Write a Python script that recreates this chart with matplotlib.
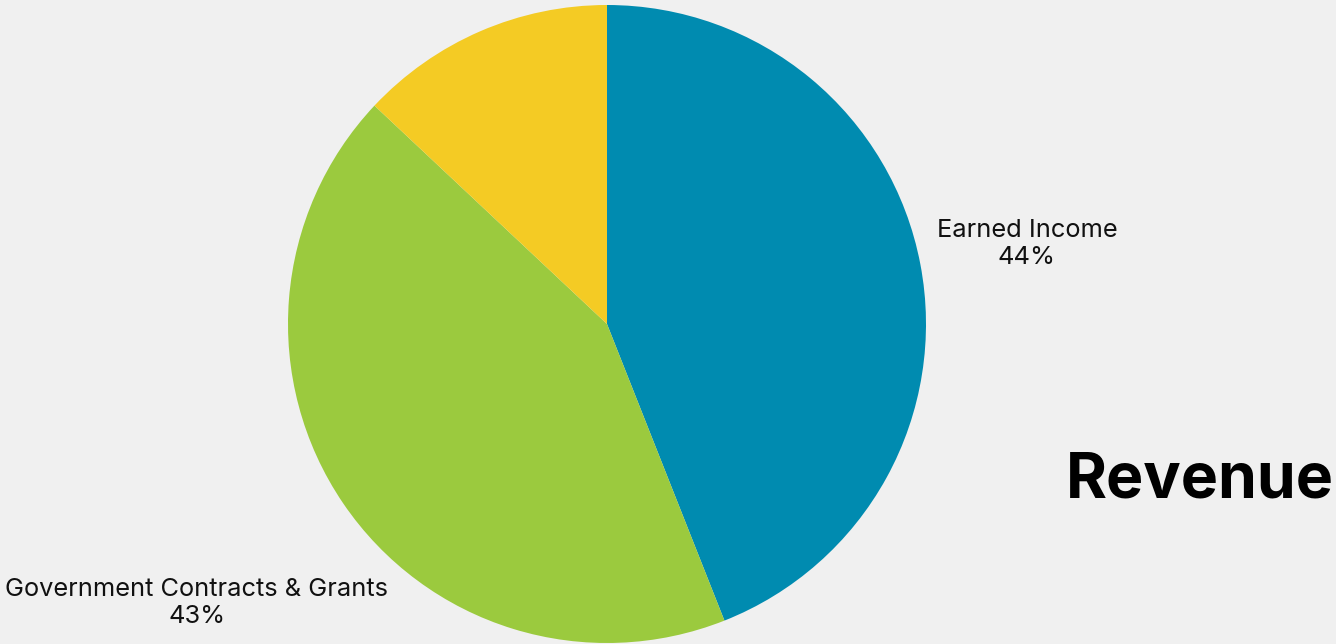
import numpy as np
import matplotlib.pyplot as plt

# revenue shares (percent)
labels = ["Earned Income", "Government Contracts & Grants", ""]
shares = [44, 43, 13]
colors = ["#008BB0", "#9BCA3E", "#F4CB24"]
label_dist = [1.34, 1.555, None]

plt.rcParams['font.family'] = ['Inter', 'DejaVu Sans']

fig = plt.figure(figsize=(13.36, 6.44), dpi=100, facecolor="#F0F0F0")
ax = fig.add_axes([(607 - 319) / 1336, 1 / 644, 638 / 1336, 638 / 644])
ax.set_facecolor("#F0F0F0")

wedges, _ = ax.pie(shares, colors=colors, startangle=90, counterclock=False,
                   wedgeprops=dict(linewidth=0))
ax.set_xlim(-1, 1)
ax.set_ylim(-1, 1)
ax.set_aspect("equal")
ax.axis("off")

#labels next to slices
for w, lab, val, d in zip(wedges, labels, shares, label_dist):
    if d is None:
        continue
    ang = np.deg2rad((w.theta1 + w.theta2) / 2)
    ax.text(d * np.cos(ang), d * np.sin(ang), f"{lab}\n{val}%",
            ha="center", va="center", fontsize=18.3, linespacing=1.2,
            color="#111111", clip_on=False)

fig.text(1334 / 1336, 1 - 481 / 644, "Revenue", ha="right", va="center",
         fontsize=45, fontweight="bold", color="black")

fig.savefig("out.png", dpi=100, facecolor=fig.get_facecolor())
